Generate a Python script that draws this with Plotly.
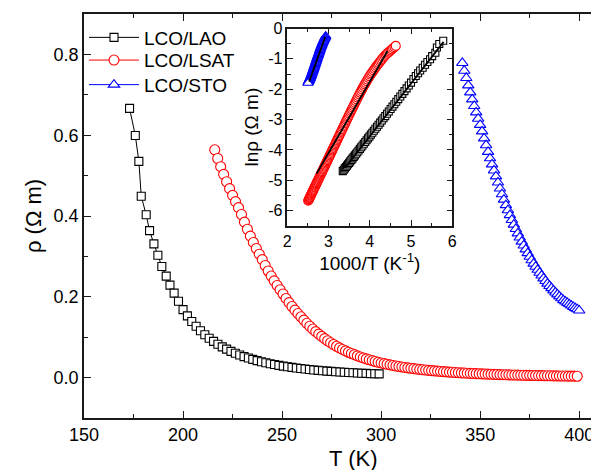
import numpy as np
import plotly.graph_objects as go

# ---------------- data ----------------
# LCO/LAO  (temperature in K, ln of resistivity in Ohm m)
T_LAO = [173.0, 175.9, 177.7, 178.9, 181.4, 183.1, 185.3, 187.3, 189.3, 191.5, 193.4, 195.5, 197.7,
         200.0, 202.2, 204.4, 206.6, 208.8, 211.0, 213.2, 215.4, 217.6, 219.8, 222.0, 224.2, 226.4,
         228.6, 230.8, 233.0, 235.2, 237.4, 239.6, 241.8, 244.0, 246.2, 248.4, 250.6, 252.8, 255.0,
         257.2, 259.4, 261.6, 263.8, 266.0, 268.2, 270.4, 272.6, 274.8, 277.0, 279.2, 281.4, 283.6,
         285.8, 288.0, 290.2, 292.4, 294.6, 296.8, 299.0]
lnrho_LAO = [-0.406, -0.512, -0.625, -0.801, -0.909, -1.011, -1.106, -1.194, -1.291, -1.382, -1.474, -1.565, -1.666,
             -1.783, -1.878, -1.973, -2.064, -2.154, -2.242, -2.328, -2.411, -2.494, -2.575, -2.654, -2.733, -2.809,
             -2.885, -2.957, -3.029, -3.100, -3.170, -3.237, -3.304, -3.370, -3.434, -3.497, -3.561, -3.621, -3.680,
             -3.740, -3.798, -3.855, -3.911, -3.967, -4.020, -4.075, -4.127, -4.178, -4.229, -4.279, -4.328, -4.377,
             -4.425, -4.472, -4.518, -4.564, -4.609, -4.653, -4.697]

# LCO/LSAT
T_LSAT = [216.0, 217.5, 219.0, 220.5, 222.0, 223.5, 225.0, 226.5, 228.0, 229.5, 231.0, 232.5, 234.0, 235.5,
          237.0, 238.5, 240.0, 241.5, 243.0, 244.5, 246.0, 247.5, 249.0, 250.5, 252.0, 253.5, 255.0, 256.5,
          258.0, 259.5, 261.0, 262.5, 264.0, 265.5, 267.0, 268.5, 270.0, 271.5, 273.0, 274.5, 276.0, 277.5,
          279.0, 280.5, 282.0, 283.5, 285.0, 286.5, 288.0, 289.5, 291.0, 292.5, 294.0, 295.5, 297.0, 298.5,
          300.0, 301.5, 303.0, 304.5, 306.0, 307.5, 309.0, 310.5, 312.0, 313.5, 315.0, 316.5, 318.0, 319.5,
          321.0, 322.5, 324.0, 325.5, 327.0, 328.5, 330.0, 331.5, 333.0, 334.5, 336.0, 337.5, 339.0, 340.5,
          342.0, 343.5, 345.0, 346.5, 348.0, 349.5, 351.0, 352.5, 354.0, 355.5, 357.0, 358.5, 360.0, 361.5,
          363.0, 364.5, 366.0, 367.5, 369.0, 370.5, 372.0, 373.5, 375.0, 376.5, 378.0, 379.5, 381.0, 382.5,
          384.0, 385.5, 387.0, 388.5, 390.0, 391.5, 393.0, 394.5, 396.0, 397.5, 399.0]
lnrho_LSAT = [-0.573, -0.612, -0.650, -0.687, -0.724, -0.760, -0.796, -0.831, -0.866, -0.907, -0.955, -1.002,
              -1.049, -1.095, -1.141, -1.186, -1.231, -1.282, -1.332, -1.381, -1.430, -1.478, -1.525, -1.575,
              -1.630, -1.684, -1.737, -1.790, -1.842, -1.894, -1.950, -2.007, -2.063, -2.119, -2.174, -2.229,
              -2.282, -2.338, -2.394, -2.449, -2.503, -2.557, -2.610, -2.663, -2.715, -2.767, -2.818, -2.869,
              -2.921, -2.973, -3.023, -3.073, -3.123, -3.172, -3.221, -3.269, -3.317, -3.364, -3.411, -3.457,
              -3.503, -3.549, -3.594, -3.638, -3.682, -3.726, -3.769, -3.812, -3.855, -3.897, -3.938, -3.980,
              -4.021, -4.061, -4.101, -4.141, -4.181, -4.220, -4.258, -4.297, -4.335, -4.373, -4.410, -4.447,
              -4.484, -4.520, -4.556, -4.592, -4.627, -4.662, -4.697, -4.732, -4.766, -4.800, -4.834, -4.867,
              -4.900, -4.933, -4.966, -4.998, -5.030, -5.062, -5.093, -5.125, -5.156, -5.187, -5.217, -5.247,
              -5.277, -5.307, -5.337, -5.366, -5.395, -5.424, -5.453, -5.481, -5.509, -5.537, -5.565, -5.593,
              -5.620, -5.647, -5.674]

# LCO/STO
T_STO = [341, 342, 343, 344, 345, 346, 347, 348, 349, 350, 351, 352, 353, 354, 355, 356, 357, 358, 359, 360,
         361, 362, 363, 364, 365, 366, 367, 368, 369, 370, 371, 372, 373, 374, 375, 376, 377, 378, 379, 380,
         381, 382, 383, 384, 385, 386, 387, 388, 389, 390, 391, 392, 393, 394, 395, 396, 397, 398, 399, 400]
lnrho_STO = [-0.250, -0.275, -0.299, -0.324, -0.348, -0.373, -0.397, -0.421, -0.445, -0.469,
             -0.495, -0.524, -0.553, -0.582, -0.611, -0.639, -0.668, -0.697, -0.728, -0.759,
             -0.790, -0.820, -0.851, -0.881, -0.911, -0.941, -0.971, -1.000, -1.030, -1.059,
             -1.089, -1.118, -1.148, -1.177, -1.207, -1.236, -1.265, -1.293, -1.321, -1.349,
             -1.376, -1.404, -1.431, -1.458, -1.484, -1.508, -1.533, -1.557, -1.580, -1.604,
             -1.628, -1.651, -1.670, -1.688, -1.707, -1.724, -1.742, -1.760, -1.777, -1.795]

# linear fits shown in the inset (1000/T, ln rho)
fit_LAO_x, fit_LAO_y = [3.40, 5.79], [-4.59, -0.44]
fit_LSAT_x, fit_LSAT_y = [2.71, 4.43], [-4.78, -0.74]
fit_STO_x, fit_STO_y = [2.53, 2.92], [-1.75, -0.27]

names = ["LCO/LAO", "LCO/LSAT", "LCO/STO"]
colors = ["#000000", "#FF0000", "#0000FF"]
symbols = ["square", "circle", "triangle-up"]
sizes = [8, 10, 10]
legend_ids = ["legend", "legend2", "legend3"]

FONT = "Liberation Sans, Arial, sans-serif"
AX = "#1a1a1a"

fig = go.Figure()

data = [(T_LAO, lnrho_LAO), (T_LSAT, lnrho_LSAT), (T_STO, lnrho_STO)]

# main panel
for (T, ln), nm, c, s, sz, lg in zip(data, names, colors, symbols, sizes, legend_ids):
    fig.add_trace(go.Scatter(
        x=T, y=np.exp(np.array(ln)), name=nm, mode="lines+markers", legend=lg,
        line=dict(color=c, width=1),
        marker=dict(symbol=s, size=sz, color="white", line=dict(color=c, width=1.1)),
        xaxis="x", yaxis="y"))

# inset
inset_rev = [True, True, False]
for (T, ln), c, s, sz, rev in zip(data, colors, symbols, sizes, inset_rev):
    xi = 1000.0 / np.array(T, dtype=float)
    yi = np.array(ln)
    if rev:
        xi, yi = xi[::-1], yi[::-1]
    fig.add_trace(go.Scatter(
        x=xi, y=yi, mode="markers", showlegend=False, cliponaxis=False,
        marker=dict(symbol=s, size=sz - 1, color="white", line=dict(color=c, width=1.1)),
        xaxis="x2", yaxis="y2"))

for fx, fy in [(fit_LAO_x, fit_LAO_y), (fit_LSAT_x, fit_LSAT_y), (fit_STO_x, fit_STO_y)]:
    fig.add_trace(go.Scatter(x=fx, y=fy, mode="lines", showlegend=False,
                             line=dict(color="black", width=1.8), xaxis="x2", yaxis="y2"))

common = dict(showgrid=False, zeroline=False, showline=True, linecolor=AX, linewidth=1.5,
              mirror="ticks", ticks="inside", tickcolor=AX, tickwidth=1.3, automargin=False)

leg = dict(xanchor="left", yanchor="middle", bgcolor="rgba(0,0,0,0)",
           font=dict(size=19, family=FONT), itemwidth=50)

fig.update_layout(
    width=599, height=470,
    margin=dict(l=76, r=8, t=6, b=60),
    paper_bgcolor="white", plot_bgcolor="white",
    font=dict(family=FONT, color="black"),
    showlegend=True,
    legend=dict(x=0.0, y=0.9418, **leg),
    legend2=dict(x=0.0, y=0.8856, **leg),
    legend3=dict(x=0.0, y=0.8248, **leg),
    xaxis=dict(domain=[0, 1], range=[150, 410], tick0=150, dtick=50, ticklen=7,
               minor=dict(dtick=25, tick0=150, ticks="inside", ticklen=4, tickcolor=AX, tickwidth=1.3),
               tickfont=dict(size=18), anchor="y", **common),
    yaxis=dict(domain=[0, 1], range=[-0.1, 0.9], tick0=0, dtick=0.2, tickformat=".1f", ticklen=7,
               minor=dict(dtick=0.1, tick0=0, ticks="inside", ticklen=4, tickcolor=AX, tickwidth=1.3),
               tickfont=dict(size=18), title=dict(text="ρ (Ω m)", font=dict(size=22), standoff=6),
               anchor="x", **common),
    xaxis2=dict(domain=[0.3948, 0.7151], range=[2, 6], tick0=2, dtick=1, ticklen=6,
                minor=dict(dtick=0.5, tick0=2, ticks="inside", ticklen=3.5, tickcolor=AX, tickwidth=1.3),
                tickfont=dict(size=16), title=dict(text="1000/T (K<sup>-1</sup>)", font=dict(size=19), standoff=2),
                anchor="y2", **common),
    yaxis2=dict(domain=[0.4757, 0.9641], range=[-6.5, 0], tickmode="array",
                tickvals=[-6, -5, -4, -3, -2, -1, 0], ticktext=["-6", "-5", "-4", "-3", "-2", "-1", "0"],
                ticklen=6,
                minor=dict(dtick=0.5, tick0=0, ticks="inside", ticklen=3.5, tickcolor=AX, tickwidth=1.3),
                tickfont=dict(size=16), title=dict(text="lnρ (Ω m)", font=dict(size=19), standoff=4),
                anchor="x2", **common),
    annotations=[dict(text="T (K)", xref="x", yref="paper", x=286, y=0, xanchor="center",
                      yanchor="middle", yshift=-40, showarrow=False, font=dict(size=22))],
)

fig.write_html("out.html")
